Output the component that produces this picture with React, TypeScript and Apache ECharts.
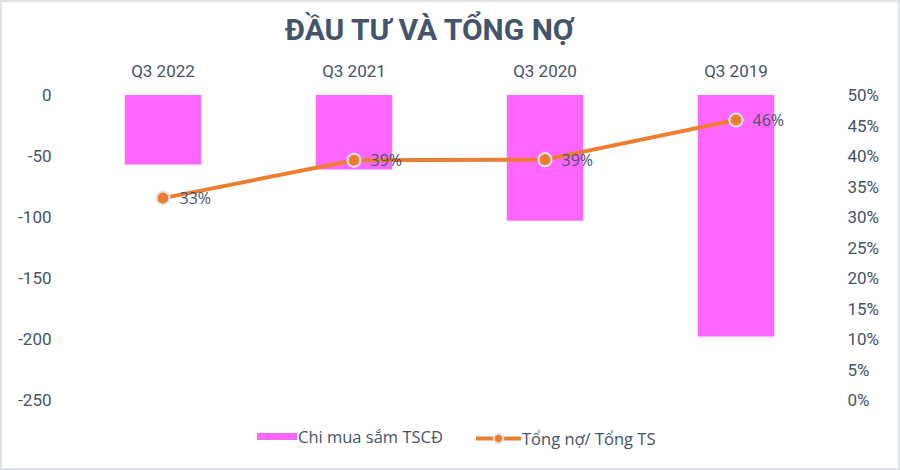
import { useEffect, useRef } from "react";
import * as echarts from "echarts";

const quarters = ["Q3 2022", "Q3 2021", "Q3 2020", "Q3 2019"];
const capexValues = [-57, -61, -103, -198];
const debtRatio = [0.331, 0.393, 0.394, 0.459];

const textColor = "#44546a";
const labelFont = "'Liberation Sans Narrow', Roboto, sans-serif";
const bodyFont = "'Open Sans', 'Noto Sans', sans-serif";

const pct = (v: number) => `${Math.round(v * 100)}%`;

function buildOption(): echarts.EChartsOption {
  const legendText = { color: textColor, fontSize: 16.5, fontFamily: bodyFont, padding: [0, 0, 0, -4] };
  return {
    animation: false,
    title: {
      text: "ĐẦU TƯ VÀ TỔNG NỢ",
      left: 278,
      top: 7,
      textStyle: { color: textColor, fontSize: 30, fontWeight: "bold", fontFamily: labelFont },
    },
    grid: { left: 65.5, right: 66.5, top: 93, bottom: 68 },
    legend: [
      {
        left: 250,
        bottom: 18,
        itemWidth: 40,
        itemHeight: 7,
        textStyle: legendText,
        data: [{ name: "Chi mua sắm TSCĐ", icon: "rect" }],
      },
      {
        left: 467,
        bottom: 16,
        itemWidth: 45,
        itemHeight: 12,
        textStyle: legendText,
        data: [
          {
            name: "Tổng nợ/ Tổng TS",
            lineStyle: { width: 4, color: "#ed7d31" },
            itemStyle: { color: "#ed7d31", borderColor: "#e6e6e6", borderWidth: 2 },
          },
        ],
      },
    ],
    xAxis: {
      type: "category",
      position: "top",
      data: quarters,
      axisLine: { show: false },
      axisTick: { show: false },
      axisLabel: { color: textColor, fontSize: 17, fontFamily: labelFont, margin: 16 },
    },
    yAxis: [
      {
        type: "value",
        min: -250,
        max: 0,
        interval: 50,
        splitLine: { show: false },
        axisLine: { show: false },
        axisLabel: { color: textColor, fontSize: 17, fontFamily: labelFont, margin: 16 },
      },
      {
        type: "value",
        position: "right",
        min: 0,
        max: 0.5,
        interval: 0.05,
        splitLine: { show: false },
        axisLine: { show: false },
        axisLabel: {
          color: textColor,
          fontSize: 17,
          fontFamily: labelFont,
          margin: 16,
          formatter: (v: number) => pct(v),
        },
      },
    ],
    series: [
      {
        name: "Chi mua sắm TSCĐ",
        type: "bar",
        data: capexValues,
        barWidth: "40%",
        itemStyle: { color: "#ff66ff" },
      },
      {
        name: "Tổng nợ/ Tổng TS",
        type: "line",
        yAxisIndex: 1,
        data: debtRatio,
        symbol: "circle",
        symbolSize: 13,
        lineStyle: { color: "#ed7d31", width: 4 },
        itemStyle: { color: "#ed7d31", borderColor: "#e6e6e6", borderWidth: 2 },
        label: {
          show: true,
          position: "right",
          distance: 9,
          color: textColor,
          fontSize: 16,
          fontFamily: bodyFont,
          formatter: (p: any) => pct(p.value),
        },
      },
    ],
  };
}

export default function App() {
  const nodeRef = useRef<HTMLDivElement | null>(null);

  useEffect(() => {
    document.body.style.margin = "0";
    if (!nodeRef.current) return;
    const chart = echarts.init(nodeRef.current, undefined, { renderer: "svg" });
    chart.setOption(buildOption());
    return () => chart.dispose();
  }, []);

  return (
    <div
      style={{
        width: 900,
        height: 470,
        boxSizing: "border-box",
        border: "2px solid #dfe3e8",
        background: "#fff",
      }}
    >
      <div ref={nodeRef} style={{ width: 896, height: 466 }} />
    </div>
  );
}
